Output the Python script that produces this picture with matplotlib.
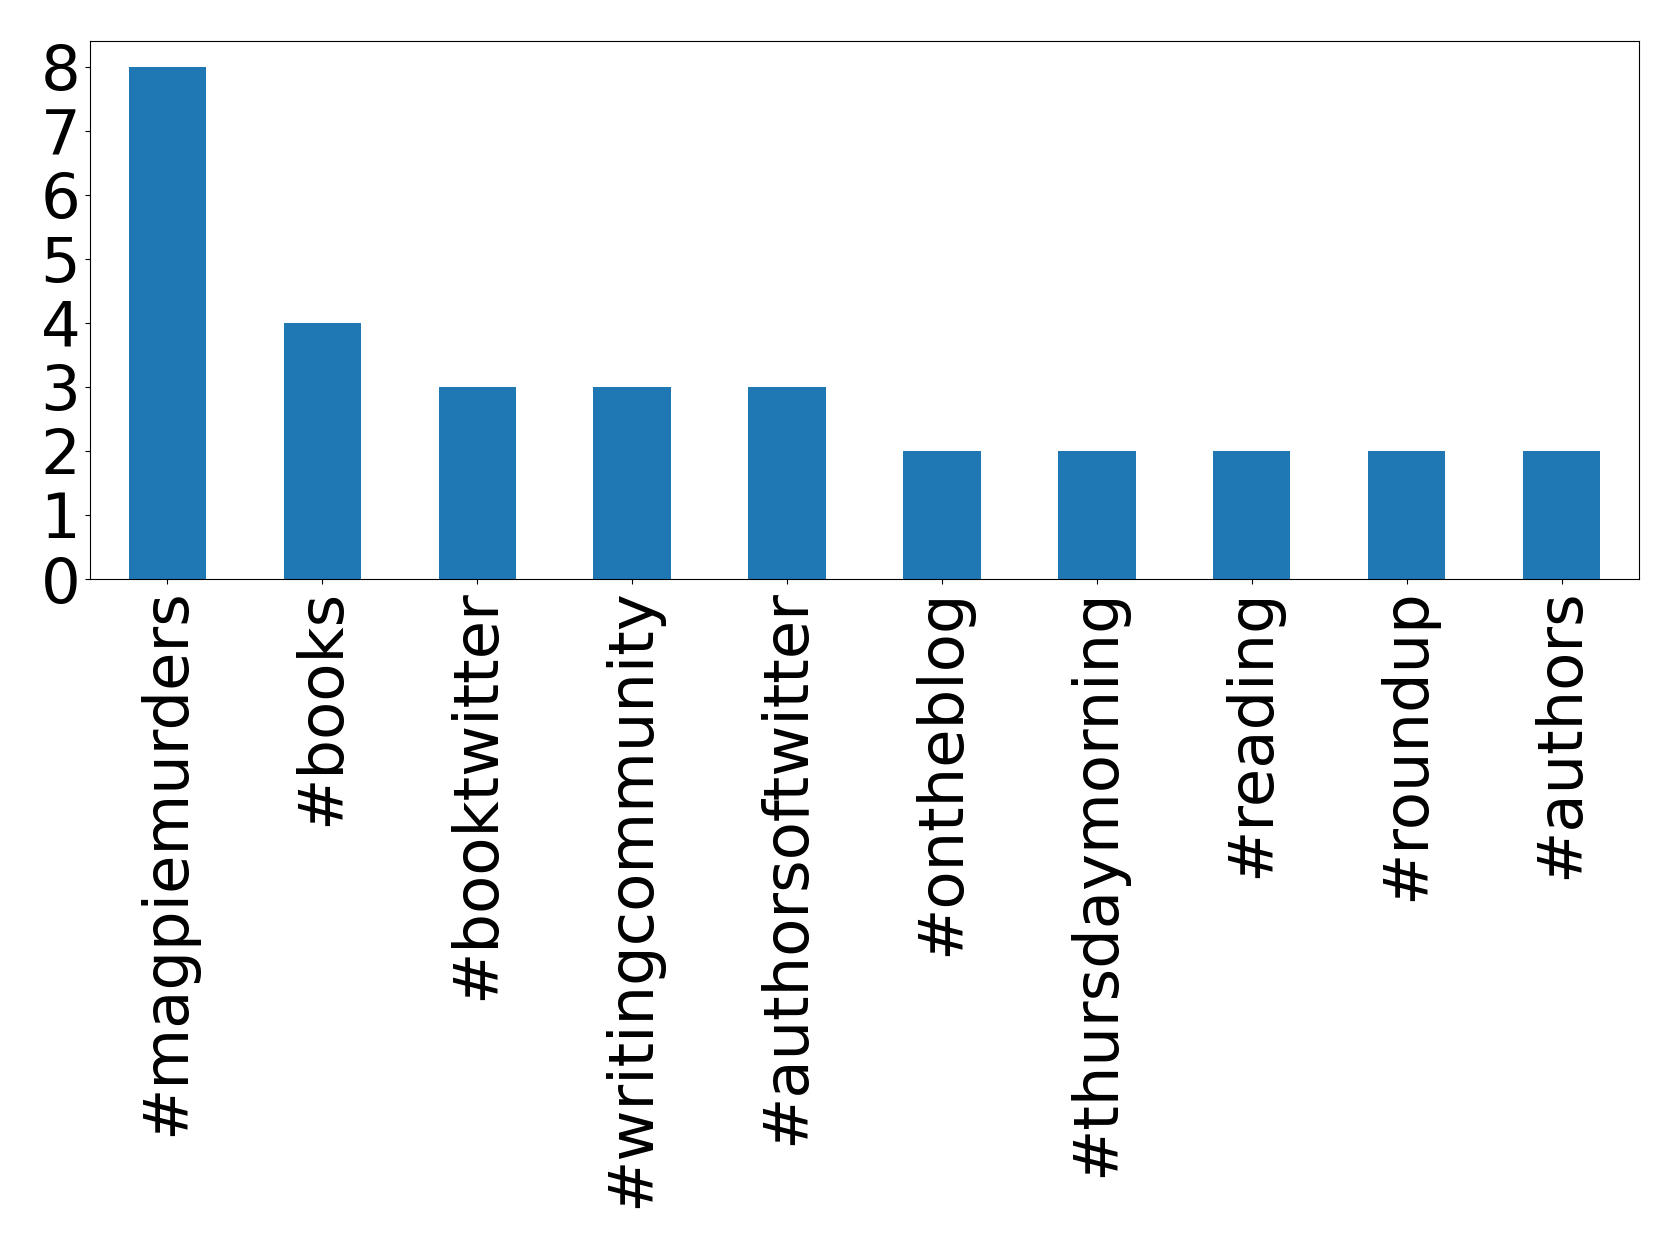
import matplotlib
matplotlib.use("Agg")
import matplotlib.pyplot as plt
import pandas as pd

hashtags = ["#magpiemurders", "#books", "#booktwitter", "#writingcommunity",
            "#authorsoftwitter", "#ontheblog", "#thursdaymorning", "#reading",
            "#roundup", "#authors"]
counts = [8, 4, 3, 3, 3, 2, 2, 2, 2, 2]

series = pd.Series(counts, index=hashtags)

fig = plt.figure(figsize=(16.79, 12.48), dpi=100)
ax = fig.add_subplot(111)
series.plot(kind="bar", ax=ax, color="#1f77b4")
ax.set_yticks(range(0, 9))
ax.tick_params(axis="both", labelsize=45)
plt.subplots_adjust(left=90/1679, right=1639/1679, top=1-41/1248, bottom=1-579/1248)
fig.savefig("out.png", dpi=100)
